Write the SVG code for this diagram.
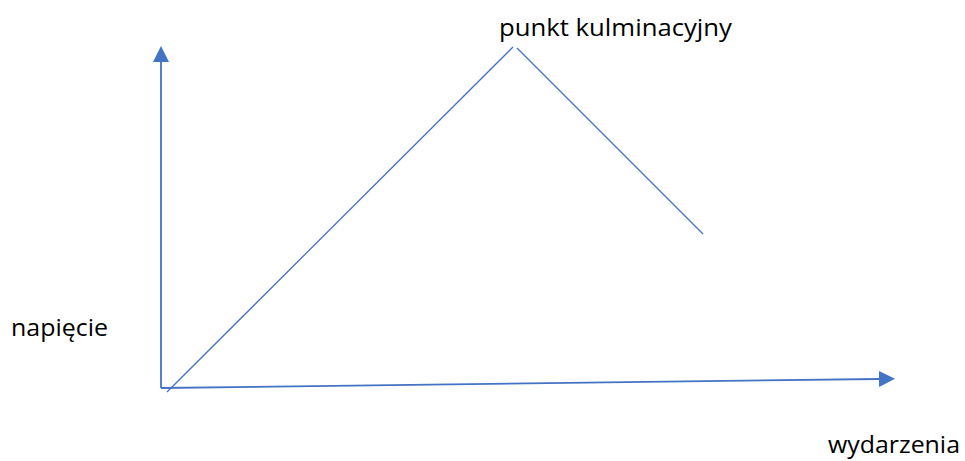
<svg xmlns="http://www.w3.org/2000/svg" width="965" height="461" viewBox="0 0 965 461">
<style>
.ax{stroke:#4472C4;stroke-width:1.8;fill:none}
.ln{stroke:#4472C4;stroke-width:1.3;fill:none}
.t{font-family:"Open Sans","Liberation Sans",sans-serif;font-size:23px;fill:#000}
</style>
<defs>
<marker id="ah" viewBox="0 0 16 16" refX="0" refY="8" markerWidth="16" markerHeight="16" markerUnits="userSpaceOnUse" orient="auto">
<path d="M0,0 L16,8 L0,16 Z" fill="#4472C4"/>
</marker>
</defs>
<rect width="965" height="461" fill="#fff"/>
<g id="connectors">
<line class="ax" x1="161" y1="388" x2="161" y2="62" marker-end="url(#ah)"/>
<line class="ax" x1="161" y1="388" x2="879" y2="379" marker-end="url(#ah)"/>
<line class="ln" x1="167" y1="392" x2="513" y2="47"/>
<line class="ln" x1="517" y1="48" x2="703" y2="234"/>
</g>
<g id="label-peak"><text class="t" x="499" y="36" textLength="233" lengthAdjust="spacingAndGlyphs">punkt kulminacyjny</text></g>
<g id="label-y"><text class="t" x="11" y="336" textLength="97" lengthAdjust="spacingAndGlyphs">napięcie</text></g>
<g id="label-x"><text class="t" x="828" y="453" textLength="132" lengthAdjust="spacingAndGlyphs">wydarzenia</text></g>
</svg>
